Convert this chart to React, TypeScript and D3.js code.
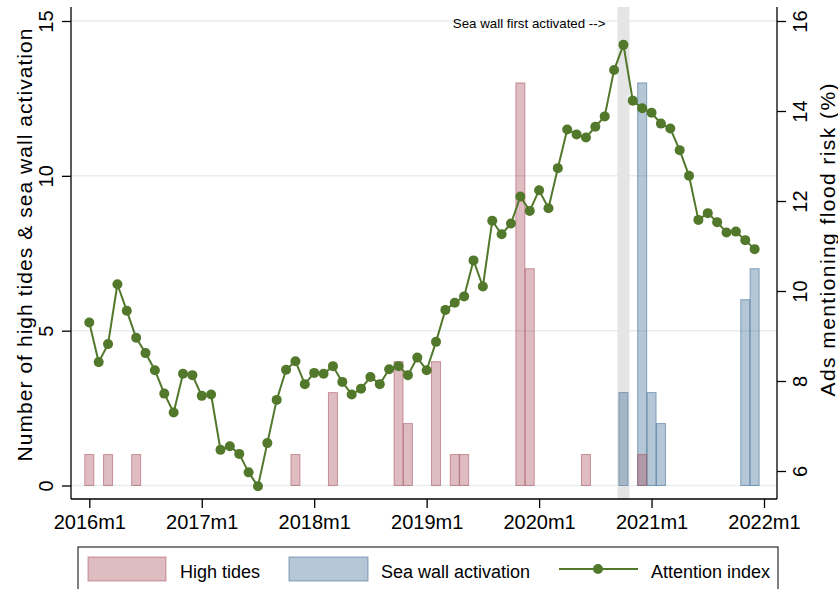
import React, { useEffect, useRef } from "react";
import * as d3 from "d3";

// monthly series, 2016m1 .. 2021m12
const startYear = 2016;
const attentionIndex = [
  9.3, 8.42, 8.82, 10.15, 9.56, 8.96, 8.62, 8.24, 7.72, 7.3, 8.16, 8.13,
  7.67, 7.7, 6.47, 6.55, 6.38, 5.97, 5.66, 6.62, 7.58, 8.25, 8.44, 7.93,
  8.18, 8.16, 8.33, 7.98, 7.7, 7.83, 8.09, 7.93, 8.26, 8.33, 8.13, 8.52,
  8.24, 8.87, 9.58, 9.74, 9.88, 10.68, 10.1, 11.56, 11.26, 11.5, 12.1, 11.78,
  12.24, 11.84, 12.73, 13.59, 13.48, 13.41, 13.65, 13.88, 14.91, 15.47, 14.23, 14.06,
  13.96, 13.72, 13.61, 13.13, 12.56, 11.58, 11.73, 11.53, 11.3, 11.32, 11.13, 10.93,
];

const highTideDates = [
  "2016m1", "2016m3", "2016m6", "2017m11", "2018m3", "2018m10", "2018m11",
  "2019m2", "2019m4", "2019m5", "2019m11", "2019m12", "2020m6", "2020m12",
];
const highTideCounts = [1, 1, 1, 1, 3, 4, 2, 4, 1, 1, 13, 7, 1, 1];

const seaWallDates = ["2020m10", "2020m12", "2021m1", "2021m2", "2021m11", "2021m12"];
const seaWallCounts = [3, 13, 3, 2, 6, 7];

const seaWallFirst = "2020m10";
const xTickLabels = ["2016m1", "2017m1", "2018m1", "2019m1", "2020m1", "2021m1", "2022m1"];
const leftTicks = [0, 5, 10, 15];
const rightTicks = [6, 8, 10, 12, 14, 16];

const FONT = "'Liberation Sans', Arial, Helvetica, sans-serif";
const GREEN = "#52782b";
const RED_FILL = "rgba(168,80,92,0.38)";
const RED_LINE = "rgba(168,80,92,0.55)";
const BLUE_FILL = "rgba(70,115,155,0.4)";
const BLUE_LINE = "rgba(70,115,155,0.6)";

// "2019m4" -> months since 2016m1
const toIndex = (s: string) => {
  const [y, m] = s.split("m").map(Number);
  return (y - startYear) * 12 + (m - 1);
};

const App: React.FC = () => {
  const svgRef = useRef<SVGSVGElement | null>(null);

  useEffect(() => {
    if (!svgRef.current) return;
    const svg = d3.select(svgRef.current);
    svg.selectAll("*").remove();

    const plot = { left: 71, right: 777, top: 7, bottom: 499 };

    const x = d3.scaleLinear().domain([0, 72]).range([89.3, 764]);
    const yL = d3.scaleLinear().domain([0, 15]).range([485.5, 21]);
    const yR = d3.scaleLinear().domain([6, 16]).range([471, 21]);
    const half = (x(1) - x(0)) * 0.48;

    // gridlines
    svg.append("g")
      .selectAll("line")
      .data(leftTicks)
      .enter()
      .append("line")
      .attr("x1", plot.left)
      .attr("x2", plot.right)
      .attr("y1", (d) => yL(d))
      .attr("y2", (d) => yL(d))
      .attr("stroke", "#e6eef0")
      .attr("stroke-width", 1.5);

    // shaded band at first sea wall activation
    const sw = toIndex(seaWallFirst);
    svg.append("rect")
      .attr("x", x(sw - 0.65))
      .attr("width", x(sw + 0.65) - x(sw - 0.65))
      .attr("y", plot.top)
      .attr("height", plot.bottom - plot.top)
      .attr("fill", "#e5e5e5");

    svg.append("text")
      .attr("x", x(sw) - 18)
      .attr("y", 28)
      .attr("text-anchor", "end")
      .style("font-family", FONT)
      .style("font-size", "13.3px")
      .text("Sea wall first activated -->");

    const drawBars = (dates: string[], counts: number[], fill: string, stroke: string) => {
      svg.append("g")
        .selectAll("rect")
        .data(dates.map((d, i) => ({ m: toIndex(d), n: counts[i] })))
        .enter()
        .append("rect")
        .attr("x", (d) => x(d.m) - half)
        .attr("width", half * 2)
        .attr("y", (d) => yL(d.n))
        .attr("height", (d) => yL(0) - yL(d.n))
        .attr("fill", fill)
        .attr("stroke", stroke)
        .attr("stroke-width", 1);
    };
    drawBars(seaWallDates, seaWallCounts, BLUE_FILL, BLUE_LINE);
    drawBars(highTideDates, highTideCounts, RED_FILL, RED_LINE);

    // attention index line
    const line = d3.line<number>()
      .x((_, i) => x(i))
      .y((d) => yR(d));
    svg.append("path")
      .datum(attentionIndex)
      .attr("d", line)
      .attr("fill", "none")
      .attr("stroke", GREEN)
      .attr("stroke-width", 2);
    svg.append("g")
      .selectAll("circle")
      .data(attentionIndex)
      .enter()
      .append("circle")
      .attr("cx", (_, i) => x(i))
      .attr("cy", (d) => yR(d))
      .attr("r", 5)
      .attr("fill", GREEN);

    // axes
    const styleAxis = (g: d3.Selection<SVGGElement, unknown, null, undefined>) => {
      g.select(".domain").remove();
      g.selectAll(".tick line").attr("stroke", "#000").attr("stroke-width", 1.3);
      g.selectAll(".tick text")
        .attr("fill", "#000")
        .style("font-family", FONT)
        .style("font-size", "20px");
    };

    const gL = svg.append("g")
      .attr("transform", `translate(${plot.left},0)`)
      .call(d3.axisLeft(yL).tickValues(leftTicks).tickSize(9).tickSizeOuter(0));
    styleAxis(gL);
    gL.selectAll(".tick text")
      .attr("x", null)
      .attr("dy", null)
      .attr("text-anchor", "middle")
      .attr("transform", "translate(-18,0) rotate(-90)");

    const gR = svg.append("g")
      .attr("transform", `translate(${plot.right},0)`)
      .call(d3.axisRight(yR).tickValues(rightTicks).tickSize(9).tickSizeOuter(0));
    styleAxis(gR);
    gR.selectAll(".tick text")
      .attr("x", null)
      .attr("dy", null)
      .attr("text-anchor", "middle")
      .attr("transform", "translate(30,0) rotate(-90)");

    const gB = svg.append("g")
      .attr("transform", `translate(0,${plot.bottom})`)
      .call(
        d3.axisBottom(x)
          .tickValues(xTickLabels.map(toIndex))
          .tickFormat((_, i) => xTickLabels[i])
          .tickSize(9)
          .tickSizeOuter(0)
      );
    styleAxis(gB);
    gB.selectAll(".tick text").attr("y", 30).attr("dy", null);

    // axis lines
    const axisLine = (x1: number, y1: number, x2: number, y2: number) =>
      svg.append("line")
        .attr("x1", x1).attr("y1", y1).attr("x2", x2).attr("y2", y2)
        .attr("stroke", "#000").attr("stroke-width", 1.3);
    axisLine(plot.left, plot.top, plot.left, plot.bottom);
    axisLine(plot.right, plot.top, plot.right, plot.bottom);
    axisLine(plot.left, plot.bottom, plot.right, plot.bottom);

    // axis titles
    svg.append("text")
      .attr("transform", "translate(32,245) rotate(-90)")
      .attr("text-anchor", "middle")
      .attr("textLength", 433)
      .attr("lengthAdjust", "spacing")
      .style("font-family", FONT)
      .style("font-size", "21px")
      .text("Number of high tides & sea wall activation");
    svg.append("text")
      .attr("transform", "translate(835,240) rotate(-90)")
      .attr("text-anchor", "middle")
      .attr("textLength", 313)
      .attr("lengthAdjust", "spacing")
      .style("font-family", FONT)
      .style("font-size", "21px")
      .text("Ads mentioning flood risk (%)");

    // legend
    const lg = svg.append("g");
    lg.append("rect")
      .attr("x", 78).attr("y", 547).attr("width", 700).attr("height", 60)
      .attr("fill", "#fff").attr("stroke", "#000").attr("stroke-width", 1);
    const sy = 557, sh = 24, ty = 578;
    lg.append("rect").attr("x", 88).attr("y", sy).attr("width", 78).attr("height", sh)
      .attr("fill", RED_FILL).attr("stroke", RED_LINE);
    lg.append("rect").attr("x", 289).attr("y", sy).attr("width", 79).attr("height", sh)
      .attr("fill", BLUE_FILL).attr("stroke", BLUE_LINE);
    lg.append("line").attr("x1", 559).attr("x2", 638).attr("y1", sy + sh / 2).attr("y2", sy + sh / 2)
      .attr("stroke", GREEN).attr("stroke-width", 2);
    lg.append("circle").attr("cx", 598).attr("cy", sy + sh / 2).attr("r", 5).attr("fill", GREEN);
    [
      { x: 180, t: "High tides" },
      { x: 381, t: "Sea wall activation" },
      { x: 651, t: "Attention index" },
    ].forEach((d) => {
      lg.append("text")
        .attr("x", d.x)
        .attr("y", ty)
        .style("font-family", FONT)
        .style("font-size", "18px")
        .text(d.t);
    });
  }, []);

  return (
    <div style={{ position: "absolute", left: 0, top: 0 }}>
      <svg ref={svgRef} width={838} height={589} style={{ display: "block", background: "#fff" }} />
    </div>
  );
};

export default App;
